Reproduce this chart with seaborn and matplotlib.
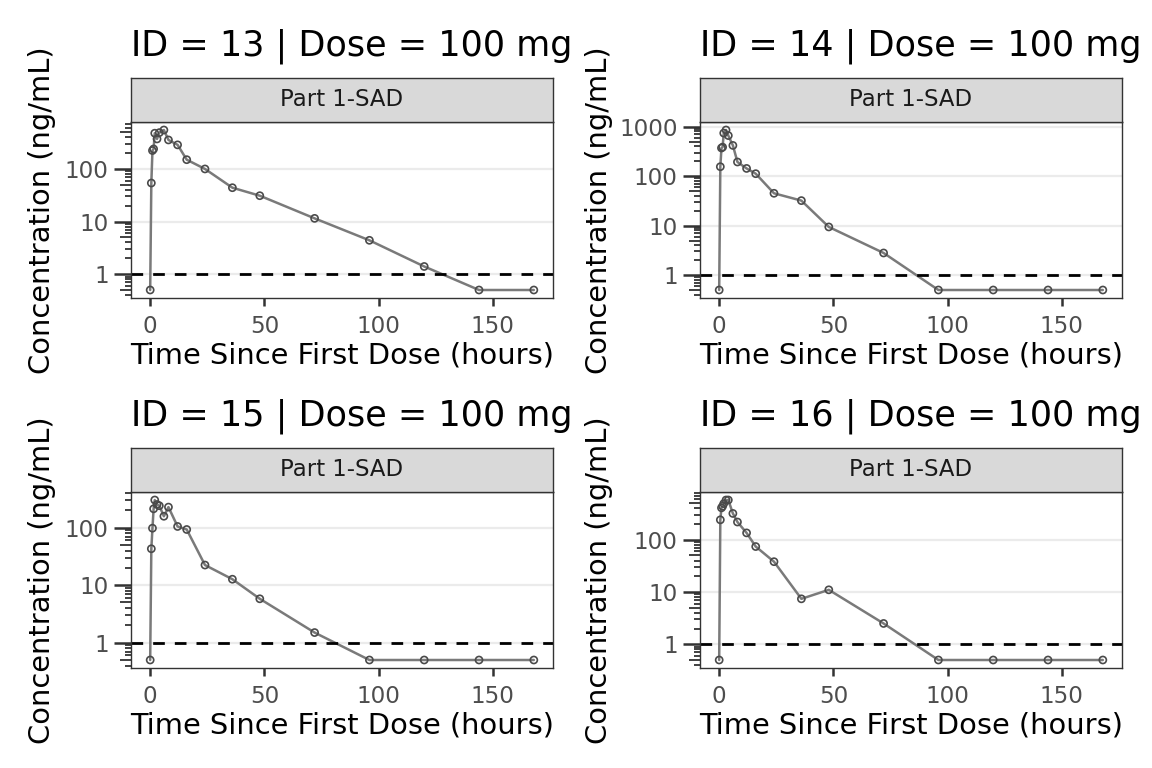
import numpy as np
import pandas as pd
import matplotlib
matplotlib.use("Agg")
import matplotlib.pyplot as plt
import matplotlib.ticker as mticker
import seaborn as sns

sns.set_theme(style="ticks")
plt.rcParams["font.family"] = ["DejaVu Sans"]

# --- data ---
times = [0, 0.5, 1, 1.5, 2, 3, 4, 6, 8, 12, 16, 24, 36, 48, 72, 96, 120, 144, 168]
subject_ids = [13, 14, 15, 16]
dose_mg = 100
part_label = "Part 1-SAD"
lloq = 1

conc_13 = [0.5, 54, 224, 240, 478, 372, 490, 550, 356, 287, 150, 100, 44, 31, 11.5, 4.4, 1.4, 0.5, 0.5]
conc_14 = [0.5, 155, 370, 385, 740, 855, 660, 417, 193, 143, 112, 45, 32, 9.4, 2.8, 0.5, 0.5, 0.5, 0.5]
conc_15 = [0.5, 43, 98, 213, 303, 253, 241, 158, 228, 105, 93, 22.4, 12.7, 5.8, 1.5, 0.5, 0.5, 0.5, 0.5]
conc_16 = [0.5, 240, 407, 437, 490, 575, 575, 318, 218, 135, 74, 38, 7.4, 11, 2.5, 0.5, 0.5, 0.5, 0.5]
x_ticks = [0, 50, 100, 150]

conc_by_id = {13: conc_13, 14: conc_14, 15: conc_15, 16: conc_16}
pk = pd.concat(
    [pd.DataFrame({"id": sid, "time": times, "conc": conc_by_id[sid]}) for sid in subject_ids],
    ignore_index=True,
)

# --- layout (pixels) ---
W, H, DPI = 1152, 768, 100
col_left = [131, 700]
row_top = [122, 492]
panel_w, panel_h = 422, 176
strip_h = 44.5

GRAY20 = "#333333"
GRAY30 = "#4D4D4D"


def rect(left, top, w, h):
    return [left / W, 1 - (top + h) / H, w / W, h / H]


def log_limits(vals, mult=0.05):
    lo, hi = np.log10(min(vals)), np.log10(max(vals))
    r = hi - lo
    return 10 ** (lo - mult * r), 10 ** (hi + mult * r)


fig = plt.figure(figsize=(W / DPI, H / DPI), dpi=DPI)

for i, sid in enumerate(subject_ids):
    r, c = divmod(i, 2)
    left, top = col_left[c], row_top[r]
    sub = pk[pk["id"] == sid]

    ax = fig.add_axes(rect(left, top, panel_w, panel_h))
    ax.set_yscale("log")
    sns.lineplot(data=sub, x="time", y="conc", ax=ax, color="#7A7A7A", lw=1.8,
                 estimator=None, sort=False, errorbar=None, zorder=2)
    ax.axhline(lloq, color="black", lw=2.0, ls=(0, (4.2, 3.6)), zorder=2.5)
    sns.scatterplot(data=sub, x="time", y="conc", ax=ax, s=26, facecolor="none",
                    edgecolor="#4A4A4A", linewidth=1.2, zorder=3)

    tmin, tmax = min(times), max(times)
    ax.set_xlim(tmin - 0.05 * (tmax - tmin), tmax + 0.05 * (tmax - tmin))
    ax.set_ylim(*log_limits(sub["conc"]))
    ax.set(xlabel="", ylabel="")

    ax.set_xticks(x_ticks)
    ax.xaxis.set_minor_locator(mticker.NullLocator())
    ax.yaxis.set_major_locator(mticker.LogLocator(base=10, numticks=10))
    ax.yaxis.set_major_formatter(mticker.FuncFormatter(lambda v, p: f"{v:g}"))
    ax.yaxis.set_minor_locator(mticker.LogLocator(base=10, subs=[2, 3, 4, 6, 7, 8, 9], numticks=100))
    ax.yaxis.set_minor_formatter(mticker.NullFormatter())

    ax.grid(axis="y", which="major", color="#EBEBEB", lw=1.6)
    ax.grid(axis="x", visible=False)
    ax.set_axisbelow(True)
    for sp in ax.spines.values():
        sp.set_visible(True)
        sp.set_color(GRAY20)
        sp.set_linewidth(1.0)

    ax.tick_params(axis="both", which="major", direction="out", color=GRAY20,
                   labelcolor=GRAY30, labelsize=16.6, width=1.8)
    ax.tick_params(axis="x", which="major", length=5.5, pad=6.5, top=False)
    ax.tick_params(axis="y", which="major", length=12, pad=4.1, right=False)
    ax.tick_params(axis="y", which="minor", length=4.3, width=1.3, color=GRAY20,
                   direction="out", left=True, right=False)

    # mid-length log ticks at 5 x 10^k
    sec = ax.secondary_yaxis("left")
    sec.yaxis.set_major_locator(mticker.LogLocator(base=10, subs=[5], numticks=100))
    sec.yaxis.set_major_formatter(mticker.NullFormatter())
    sec.yaxis.set_minor_locator(mticker.NullLocator())
    sec.tick_params(axis="y", length=8, width=1.3, color=GRAY20, direction="out")
    sec.spines["left"].set_visible(False)

    # strip
    sax = fig.add_axes(rect(left, top - strip_h, panel_w, strip_h))
    sax.set_facecolor("#D9D9D9")
    sax.set_xticks([])
    sax.set_yticks([])
    for sp in sax.spines.values():
        sp.set_visible(True)
        sp.set_color(GRAY20)
        sp.set_linewidth(1.0)
    sax.text(0.5, 0.5, part_label, transform=sax.transAxes, ha="center", va="center",
             fontsize=16.4, color="#1A1A1A")

    # title
    fig.text(left / W, 1 - (top - 67) / H, f"ID = {sid} | Dose = {dose_mg} mg",
             ha="left", va="baseline", fontsize=25.2, color="black")
    # axis titles
    fig.text((left + panel_w / 2) / W, 1 - (top + 241.3) / H,
             "Time Since First Dose (hours)", ha="center", va="baseline",
             fontsize=20.8, color="black")
    ylab_x = 50 if c == 0 else 607
    fig.text(ylab_x / W, 1 - (top + panel_h / 2) / H, "Concentration (ng/mL)",
             rotation=90, rotation_mode="anchor", ha="center", va="baseline",
             fontsize=20.8, color="black")

fig.savefig("out.png", dpi=DPI, facecolor="white")
